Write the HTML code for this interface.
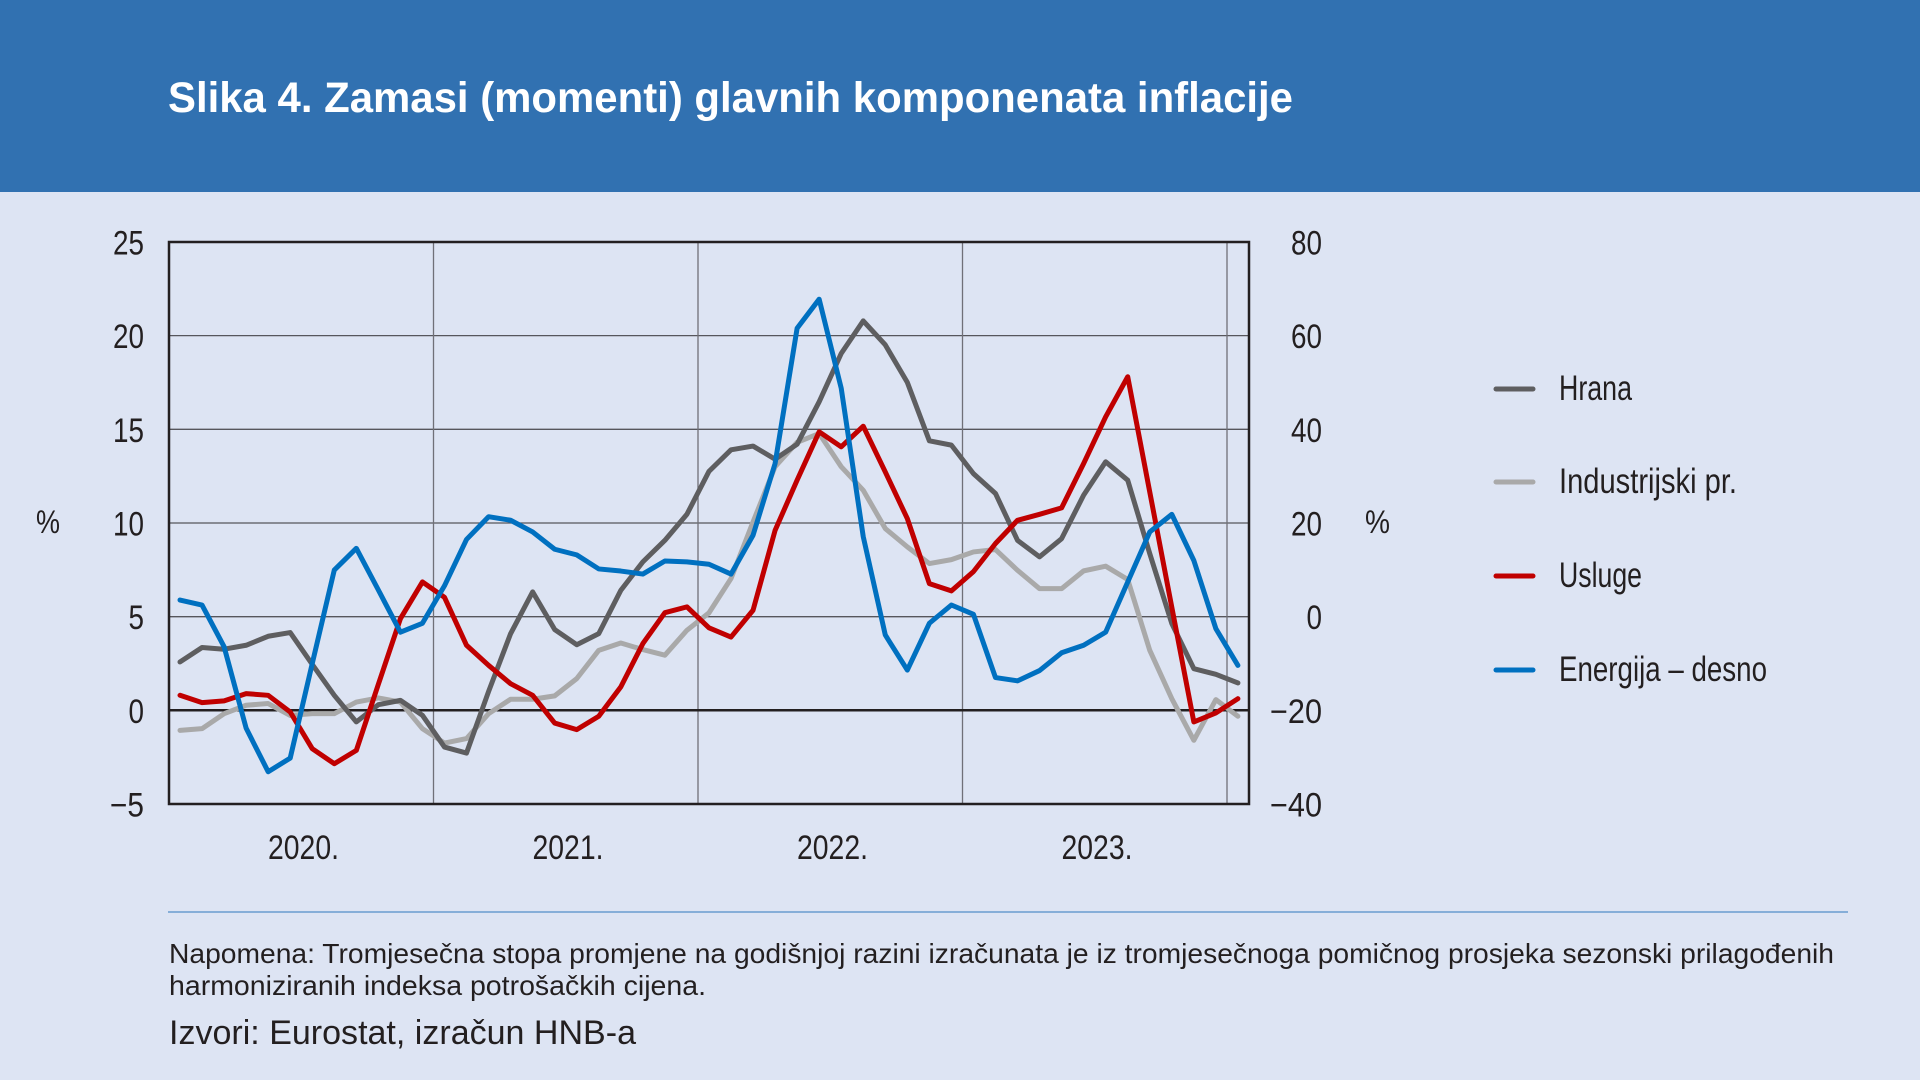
<!DOCTYPE html>
<html>
<head>
<meta charset="utf-8">
<style>
html,body{margin:0;padding:0;width:1920px;height:1080px;overflow:hidden;background:#dde4f3;}
svg{display:block;}
text{font-family:"Liberation Sans",sans-serif;fill:#231f20;}
</style>
</head>
<body>
<svg width="1920" height="1080" viewBox="0 0 1920 1080" xmlns="http://www.w3.org/2000/svg">
  <rect x="0" y="0" width="1920" height="1080" fill="#dde4f3"/>
  <rect x="0" y="0" width="1920" height="192" fill="#3171b1"/>
  <text x="168" y="112" font-size="43" font-weight="bold" style="fill:#ffffff" textLength="1125" lengthAdjust="spacingAndGlyphs">Slika 4. Zamasi (momenti) glavnih komponenata inflacije</text>

  <!-- gridlines -->
  <g stroke="#56565c" stroke-width="1.3">
    <line x1="169" y1="335.6" x2="1249" y2="335.6"/>
    <line x1="169" y1="429.3" x2="1249" y2="429.3"/>
    <line x1="169" y1="523" x2="1249" y2="523"/>
    <line x1="169" y1="616.7" x2="1249" y2="616.7"/>
  </g>
  <g stroke="#707078" stroke-width="1.3">
    <line x1="433.5" y1="242" x2="433.5" y2="804"/>
    <line x1="698" y1="242" x2="698" y2="804"/>
    <line x1="962.5" y1="242" x2="962.5" y2="804"/>
    <line x1="1227" y1="242" x2="1227" y2="804"/>
  </g>
  <line x1="169" y1="710.3" x2="1249" y2="710.3" stroke="#231f20" stroke-width="2.5"/>

  <!-- series (left axis) -->
  <g transform="translate(180,710.3) scale(22.04,-18.74)" fill="none" stroke-linejoin="round" stroke-linecap="round">
    <polyline vector-effect="non-scaling-stroke" stroke="#a9a9a9" stroke-width="5" points="0,-1.07 1,-0.98 2,-0.18 3,0.27 4,0.36 5,-0.27 6,-0.18 7,-0.18 8,0.44 9,0.66 10,0.44 11,-0.98 12,-1.75 13,-1.51 14,-0.18 15,0.59 16,0.59 17,0.77 18,1.69 19,3.2 20,3.59 21,3.24 22,2.94 23,4.27 24,5.2 25,7.03 26,10.05 27,13.0 28,14.3 29,14.77 30,13.0 31,11.74 32,9.7 33,8.72 34,7.83 35,8.04 36,8.45 37,8.58 38,7.47 39,6.49 40,6.49 41,7.44 42,7.69 43,6.98 44,3.2 45,0.62 46,-1.6 47,0.57 48,-0.32"/>
    <polyline vector-effect="non-scaling-stroke" stroke="#5e5e60" stroke-width="5" points="0,2.58 1,3.35 2,3.26 3,3.47 4,3.95 5,4.15 6,2.45 7,0.8 8,-0.62 9,0.3 10,0.53 11,-0.27 12,-1.96 13,-2.28 14,1.0 15,4.09 16,6.32 17,4.31 18,3.5 19,4.09 20,6.4 21,7.92 22,9.07 23,10.46 24,12.75 25,13.9 26,14.1 27,13.4 28,14.2 29,16.46 30,19.04 31,20.78 32,19.5 33,17.5 34,14.38 35,14.15 36,12.63 37,11.57 38,9.07 39,8.19 40,9.16 41,11.48 42,13.26 43,12.28 44,8.36 45,4.63 46,2.22 47,1.92 48,1.46"/>
    <polyline vector-effect="non-scaling-stroke" stroke="#c00000" stroke-width="5" points="0,0.8 1,0.41 2,0.5 3,0.89 4,0.8 5,-0.09 6,-2.05 7,-2.85 8,-2.14 9,1.39 10,4.89 11,6.85 12,6.03 13,3.47 14,2.4 15,1.42 16,0.8 17,-0.68 18,-1.03 19,-0.32 20,1.25 21,3.56 22,5.21 23,5.52 24,4.4 25,3.91 26,5.34 27,9.6 28,12.28 29,14.86 30,14.06 31,15.16 32,12.72 33,10.23 34,6.76 35,6.37 36,7.4 37,8.9 38,10.14 39,10.46 40,10.8 41,13.17 42,15.66 43,17.8 44,11.65 45,5.5 46,-0.62 47,-0.14 48,0.62"/>
  </g>
  <!-- series (right axis) -->
  <g transform="translate(180,616.7) scale(22.04,-4.683)" fill="none" stroke-linejoin="round" stroke-linecap="round">
    <polyline vector-effect="non-scaling-stroke" stroke="#0070c0" stroke-width="5" points="0,3.56 1,2.49 2,-6.4 3,-23.8 4,-33.1 5,-30.2 6,-10 7,9.96 8,14.6 9,5.7 10,-3.3 11,-1.4 12,6.6 13,16.5 14,21.35 15,20.6 16,18.1 17,14.4 18,13.2 19,10.2 20,9.75 21,9.1 22,11.9 23,11.7 24,11.2 25,9.1 26,17.4 27,32.7 28,61.6 29,67.8 30,48.8 31,17.1 32,-3.9 33,-11.4 34,-1.4 35,2.5 36,0.5 37,-13.0 38,-13.7 39,-11.5 40,-7.7 41,-6.1 42,-3.3 43,7.4 44,18.1 45,21.85 46,12.0 47,-2.56 48,-10.4"/>
  </g>

  <!-- frame -->
  <rect x="169" y="242" width="1080" height="562" fill="none" stroke="#231f20" stroke-width="2.5"/>

  <!-- left axis labels -->
  <g font-size="34" text-anchor="end">
    <text x="144" y="254.5" textLength="31" lengthAdjust="spacingAndGlyphs">25</text>
    <text x="144" y="348.1" textLength="31" lengthAdjust="spacingAndGlyphs">20</text>
    <text x="144" y="441.8" textLength="31" lengthAdjust="spacingAndGlyphs">15</text>
    <text x="144" y="535.5" textLength="31" lengthAdjust="spacingAndGlyphs">10</text>
    <text x="144" y="629.2" textLength="15.5" lengthAdjust="spacingAndGlyphs">5</text>
    <text x="144" y="722.8" textLength="15.5" lengthAdjust="spacingAndGlyphs">0</text>
    <text x="144" y="816.5" textLength="34" lengthAdjust="spacingAndGlyphs">−5</text>
  </g>
  <!-- right axis labels -->
  <g font-size="34" text-anchor="end">
    <text x="1322" y="254.5" textLength="31" lengthAdjust="spacingAndGlyphs">80</text>
    <text x="1322" y="348.1" textLength="31" lengthAdjust="spacingAndGlyphs">60</text>
    <text x="1322" y="441.8" textLength="31" lengthAdjust="spacingAndGlyphs">40</text>
    <text x="1322" y="535.5" textLength="31" lengthAdjust="spacingAndGlyphs">20</text>
    <text x="1322" y="629.2" textLength="15.5" lengthAdjust="spacingAndGlyphs">0</text>
    <text x="1322" y="722.8" textLength="52" lengthAdjust="spacingAndGlyphs">−20</text>
    <text x="1322" y="816.5" textLength="52" lengthAdjust="spacingAndGlyphs">−40</text>
  </g>
  <text x="36" y="533" font-size="32" textLength="24" lengthAdjust="spacingAndGlyphs">%</text>
  <text x="1365" y="533" font-size="32" textLength="25" lengthAdjust="spacingAndGlyphs">%</text>

  <!-- year labels -->
  <g font-size="34" text-anchor="middle">
    <text x="303.5" y="859" textLength="71" lengthAdjust="spacingAndGlyphs">2020.</text>
    <text x="568" y="859" textLength="71" lengthAdjust="spacingAndGlyphs">2021.</text>
    <text x="832.5" y="859" textLength="71" lengthAdjust="spacingAndGlyphs">2022.</text>
    <text x="1097" y="859" textLength="71" lengthAdjust="spacingAndGlyphs">2023.</text>
  </g>

  <!-- legend -->
  <g stroke-width="5" stroke-linecap="round">
    <line x1="1496" y1="389" x2="1533" y2="389" stroke="#5e5e60"/>
    <line x1="1496" y1="482" x2="1533" y2="482" stroke="#a9a9a9"/>
    <line x1="1496" y1="576" x2="1533" y2="576" stroke="#c00000"/>
    <line x1="1496" y1="670" x2="1533" y2="670" stroke="#0070c0"/>
  </g>
  <g font-size="35">
    <text x="1559" y="400" textLength="73" lengthAdjust="spacingAndGlyphs">Hrana</text>
    <text x="1559" y="493" textLength="178" lengthAdjust="spacingAndGlyphs">Industrijski pr.</text>
    <text x="1559" y="587" textLength="83" lengthAdjust="spacingAndGlyphs">Usluge</text>
    <text x="1559" y="681" textLength="208" lengthAdjust="spacingAndGlyphs">Energija – desno</text>
  </g>

  <!-- separator -->
  <line x1="168" y1="912" x2="1848" y2="912" stroke="#6a9bd0" stroke-width="1.5"/>

  <!-- footnotes -->
  <text x="169" y="963" font-size="28" textLength="1665" lengthAdjust="spacingAndGlyphs">Napomena: Tromjesečna stopa promjene na godišnjoj razini izračunata je iz tromjesečnoga pomičnog prosjeka sezonski prilagođenih</text>
  <text x="169" y="995" font-size="28" textLength="537" lengthAdjust="spacingAndGlyphs">harmoniziranih indeksa potrošačkih cijena.</text>
  <text x="169" y="1044" font-size="34" textLength="467" lengthAdjust="spacingAndGlyphs">Izvori: Eurostat, izračun HNB-a</text>
</svg>
</body>
</html>
